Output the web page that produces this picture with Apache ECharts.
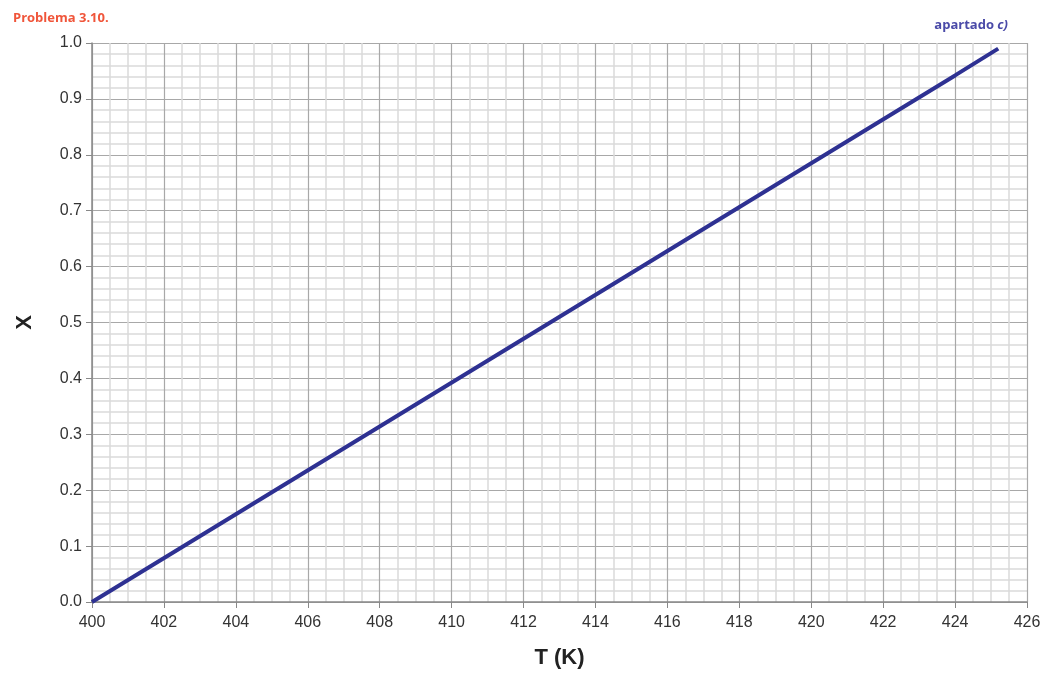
<!DOCTYPE html>
<html><head><meta charset="utf-8">
<script src="https://cdn.jsdelivr.net/npm/echarts@6/dist/echarts.min.js"></script>
<style>html,body{margin:0;padding:0;background:#fff}#c{width:1047px;height:677px}</style>
</head><body><div id="c"></div>
<script>
const temps = [400, 404, 408, 412, 416, 420, 424, 425.2];
const conversion = [0, 0.157, 0.314, 0.471, 0.628, 0.785, 0.942, 0.990];
const title = 'Problema 3.10.';
const subtitle = 'apartado ';
const xName = 'T (K)';
const yName = 'X';

const chart = echarts.init(document.getElementById('c'));
chart.setOption({
  animation: false,
  backgroundColor: '#fff',
  title: [
    {text: title, left: 8, top: 7, textStyle: {color: '#f0553a', fontSize: 13, fontWeight: 'bold', fontFamily: 'Open Sans'}},
    {text: '{a|' + subtitle + '}{b|c)}', right: 34, top: 14, textStyle: {rich: {
      a: {color: '#4a4aa8', fontSize: 13, fontWeight: 'bold', fontFamily: 'Open Sans'},
      b: {color: '#4a4aa8', fontSize: 13, fontWeight: 'bold', fontStyle: 'italic', fontFamily: 'Open Sans'}}}}
  ],
  grid: {left: 92, right: 20, top: 43, bottom: 75},
  xAxis: {
    type: 'value', min: 400, max: 426, interval: 2,
    name: xName, nameLocation: 'middle', nameGap: 45,
    nameTextStyle: {fontSize: 22, fontWeight: 'bold', color: '#222', fontFamily: 'Liberation Sans'},
    axisLine: {show: true, lineStyle: {color: '#888', width: 1.5}},
    axisTick: {show: true, length: 6, lineStyle: {color: '#888'}},
    axisLabel: {fontSize: 16, color: '#333', fontFamily: 'Liberation Sans', margin: 13},
    splitLine: {show: true, lineStyle: {color: '#a8a8a8', width: 1.2}},
    minorTick: {show: false, splitNumber: 4},
    minorSplitLine: {show: true, lineStyle: {color: '#dadada', width: 1.5}}
  },
  yAxis: {
    type: 'value', min: 0, max: 1, interval: 0.1,
    name: yName, nameLocation: 'middle', nameGap: 56, nameRotate: 90,
    nameTextStyle: {fontSize: 22, fontWeight: 'bold', color: '#222', fontFamily: 'Liberation Sans'},
    axisLine: {show: true, lineStyle: {color: '#888', width: 1.5}},
    axisTick: {show: true, length: 6, lineStyle: {color: '#888'}},
    axisLabel: {fontSize: 16, color: '#333', fontFamily: 'Liberation Sans', margin: 10, formatter: v => v.toFixed(1)},
    splitLine: {show: true, lineStyle: {color: '#a8a8a8', width: 1.2}},
    minorTick: {show: false, splitNumber: 5},
    minorSplitLine: {show: true, lineStyle: {color: '#dadada', width: 1.5}}
  },
  series: [{
    type: 'line', data: temps.map((t, i) => [t, conversion[i]]),
    showSymbol: false, smooth: false,
    lineStyle: {color: '#2e3192', width: 4}
  }]
});
</script></body></html>
